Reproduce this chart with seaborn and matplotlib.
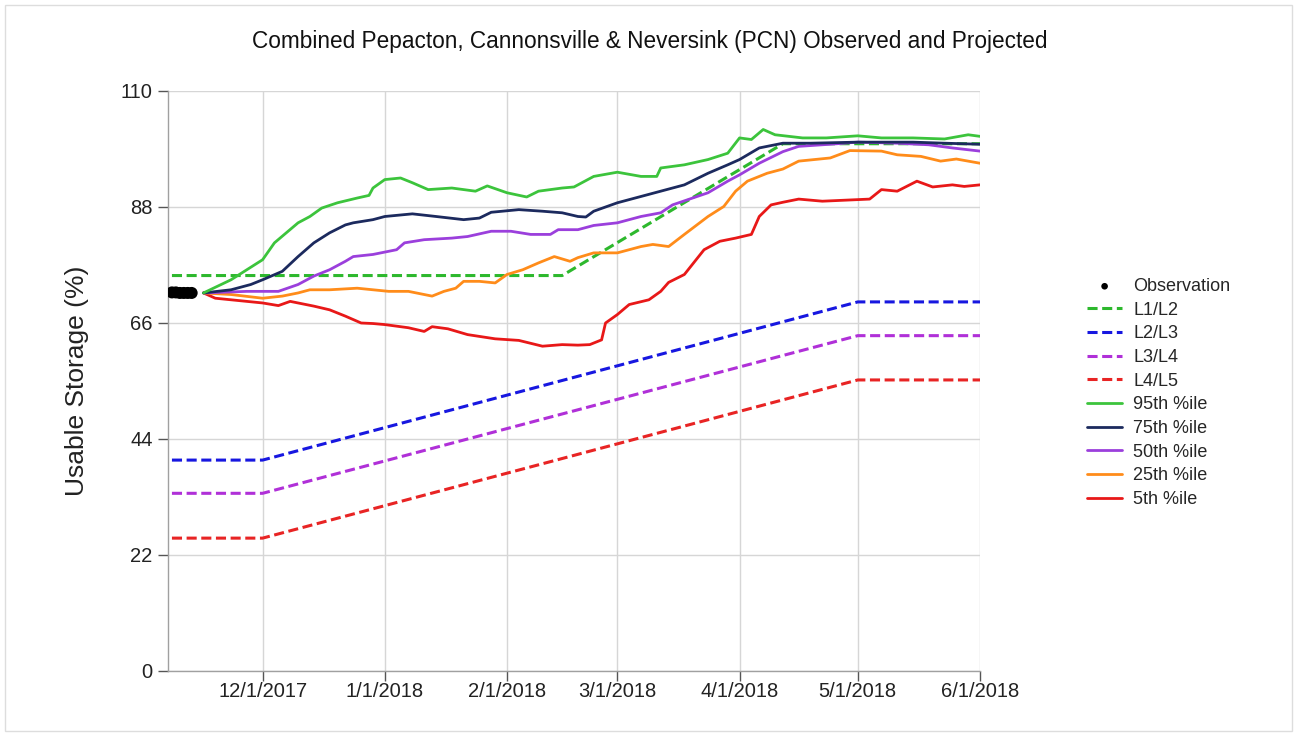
import pandas as pd
import matplotlib
matplotlib.use("Agg")
import matplotlib.pyplot as plt
from matplotlib.patches import Rectangle
import seaborn as sns

# ------------------------------------------------------
# Data
# x values are days counted from 12/1/2017
# ------------------------------------------------------
base = pd.Timestamp("2017-12-01")

obs_days = [-23, -22, -21, -20, -19, -18]
obs_vals = [71.8, 71.8, 71.7, 71.7, 71.7, 71.7]

# drought level rule curves
l12_days = [-23, 76, 132, 182]
l12_vals = [75.0, 75.0, 100.0, 100.0]
level_days = [-23, 0, 151, 182]
l23_vals = [40.0, 40.0, 70.0, 70.0]
l34_vals = [33.7, 33.7, 63.6, 63.6]
l45_vals = [25.2, 25.2, 55.2, 55.2]

# projected percentiles
p95_days = [-15, -8, -4, 0, 3, 6, 9, 12, 15, 19, 24, 27, 28, 31, 35, 38, 42, 48, 54,
            57, 62, 67, 70, 76, 79, 84, 90, 96, 100, 101, 107, 113, 118, 121, 124,
            127, 130, 137, 143, 151, 157, 165, 173, 179, 182]
p95_vals = [71.7, 74.2, 76.1, 78.0, 81.2, 83.1, 85.0, 86.2, 87.8, 88.8, 89.7, 90.2,
            91.6, 93.2, 93.5, 92.6, 91.3, 91.6, 91.0, 92.0, 90.7, 89.9, 91.0, 91.6,
            91.8, 93.8, 94.6, 93.8, 93.8, 95.4, 96.0, 97.0, 98.2, 101.1, 100.8, 102.7,
            101.7, 101.1, 101.1, 101.5, 101.1, 101.1, 100.9, 101.7, 101.4]

p75_days = [-15, -8, -3, 0, 5, 9, 13, 17, 21, 23, 28, 31, 38, 44, 51, 55, 58, 65, 71,
            76, 80, 82, 84, 90, 96, 101, 107, 113, 118, 121, 126, 132, 139, 151, 165,
            173, 182]
p75_vals = [71.7, 72.3, 73.3, 74.2, 75.8, 78.6, 81.2, 83.1, 84.6, 85.0, 85.6, 86.2,
            86.7, 86.2, 85.6, 85.9, 87.0, 87.5, 87.2, 86.9, 86.2, 86.1, 87.2, 88.8,
            90.0, 91.0, 92.2, 94.4, 96.0, 97.0, 99.2, 100.1, 100.1, 100.3, 100.3,
            100.1, 99.9]

p50_days = [-15, -4, 4, 9, 13, 17, 21, 23, 28, 34, 36, 41, 48, 52, 58, 63, 68, 73, 75,
            80, 84, 90, 96, 101, 104, 113, 118, 121, 126, 132, 136, 144, 151, 161,
            169, 175, 182]
p50_vals = [71.7, 72.0, 72.0, 73.3, 74.9, 76.1, 77.7, 78.6, 79.0, 79.9, 81.2, 81.8,
            82.1, 82.4, 83.4, 83.4, 82.8, 82.8, 83.7, 83.7, 84.5, 85.0, 86.2, 86.9,
            88.4, 90.7, 92.9, 94.1, 96.3, 98.5, 99.5, 99.9, 100.3, 100.1, 99.8, 99.2,
            98.6]

p25_days = [-15, -8, 0, 5, 9, 12, 17, 24, 28, 32, 37, 43, 46, 49, 51, 55, 59, 62, 66,
            70, 74, 78, 80, 84, 90, 96, 99, 103, 107, 113, 117, 120, 123, 128, 132,
            136, 144, 149, 157, 161, 167, 172, 176, 182]
p25_vals = [71.7, 71.4, 70.7, 71.1, 71.7, 72.3, 72.3, 72.6, 72.3, 72.0, 72.0, 71.1,
            72.0, 72.6, 73.9, 73.9, 73.6, 75.2, 76.1, 77.4, 78.6, 77.7, 78.4, 79.3,
            79.3, 80.5, 80.9, 80.5, 82.8, 86.2, 88.1, 91.0, 92.9, 94.4, 95.2, 96.7,
            97.3, 98.7, 98.6, 97.9, 97.6, 96.7, 97.1, 96.3]

p5_days = [-15, -12, -4, 0, 4, 7, 13, 17, 21, 25, 28, 31, 37, 41, 43, 47, 52, 59, 65,
           71, 76, 80, 83, 86, 87, 90, 93, 98, 101, 103, 107, 112, 116, 120, 124, 126,
           129, 132, 136, 142, 151, 154, 157, 161, 166, 170, 175, 178, 182]
p5_vals = [71.7, 70.7, 70.1, 69.8, 69.3, 70.1, 69.2, 68.5, 67.3, 66.0, 65.9, 65.7,
           65.1, 64.4, 65.3, 64.9, 63.8, 63.0, 62.7, 61.6, 61.9, 61.8, 61.9, 62.8,
           66.0, 67.6, 69.5, 70.4, 72.0, 73.7, 75.2, 79.9, 81.5, 82.1, 82.8, 86.2,
           88.4, 88.9, 89.5, 89.1, 89.4, 89.5, 91.3, 91.0, 92.9, 91.8, 92.2, 91.9, 92.2]

y_ticks = [0, 22, 44, 66, 88, 110]
x_tick_dates = ["2017-12-01", "2018-01-01", "2018-02-01", "2018-03-01",
                "2018-04-01", "2018-05-01", "2018-06-01"]
x_tick_labels = ["12/1/2017", "1/1/2018", "2/1/2018", "3/1/2018",
                 "4/1/2018", "5/1/2018", "6/1/2018"]


def to_dates(days):
    return base + pd.to_timedelta(days, unit="D")


# ------------------------------------------------------
# Plot
# ------------------------------------------------------
sns.set_theme(style="whitegrid")
plt.rcParams["font.family"] = ["Liberation Sans", "DejaVu Sans"]

fig = plt.figure(figsize=(12.97, 7.36), dpi=100)
ax = fig.add_axes([168 / 1297, 1 - 671 / 736, (980 - 168) / 1297, (671 - 91) / 736])

dash = (3.3, 1.5)
levels = [
    ("L1/L2", l12_days, l12_vals, "#2db82d"),
    ("L2/L3", level_days, l23_vals, "#1717e0"),
    ("L3/L4", level_days, l34_vals, "#b030d8"),
    ("L4/L5", level_days, l45_vals, "#e82424"),
]
pcts = [
    ("95th %ile", p95_days, p95_vals, "#3cc43c"),
    ("75th %ile", p75_days, p75_vals, "#1c2a5e"),
    ("50th %ile", p50_days, p50_vals, "#9b3fdc"),
    ("25th %ile", p25_days, p25_vals, "#ff8c1a"),
    ("5th %ile", p5_days, p5_vals, "#e81818"),
]

sns.scatterplot(x=to_dates(obs_days), y=obs_vals, ax=ax, color="black", s=75,
                edgecolor="none", label="Observation", zorder=5)

for name, d, v, c in levels:
    sns.lineplot(x=to_dates(d), y=v, ax=ax, color=c, lw=2.2, dashes=False,
                 label=name, zorder=3).lines[-1].set_dashes(dash)

for name, d, v, c in pcts[::-1]:
    sns.lineplot(x=to_dates(d), y=v, ax=ax, color=c, lw=2.0, label=name, zorder=4)

ax.set_xlim(pd.Timestamp("2017-11-07"), pd.Timestamp("2018-06-01"))
ax.set_ylim(0, 110)
ax.set_yticks(y_ticks)
ax.set_yticklabels([str(t) for t in y_ticks], fontsize=14.5, color="#222222")
ax.set_xticks(pd.to_datetime(x_tick_dates))
ax.set_xticklabels(x_tick_labels, fontsize=14.5, color="#222222")

ax.grid(True, color="#d6d6d6", lw=1)
ax.set_facecolor("white")
for side in ["top", "right"]:
    ax.spines[side].set_visible(False)
for side in ["left", "bottom"]:
    ax.spines[side].set_color("#a0a0a0")
    ax.spines[side].set_linewidth(1)
ax.tick_params(axis="both", which="both", length=7, width=1, color="#555555",
               direction="out", left=True, bottom=True)
ax.tick_params(axis="y", pad=4)
ax.tick_params(axis="x", pad=1)

ax.set_xlabel("")
ax.set_ylabel("Usable Storage (%)", fontsize=19, color="#222222")
ax.yaxis.set_label_coords(-0.097, 0.5)

fig.text(0.501, 0.944, "Combined Pepacton, Cannonsville & Neversink (PCN) Observed and Projected",
         ha="center", va="center", fontsize=16.3, color="#111111")

# legend in the order of the reference
handles, labels = ax.get_legend_handles_labels()
order = ["Observation", "L1/L2", "L2/L3", "L3/L4", "L4/L5",
         "95th %ile", "75th %ile", "50th %ile", "25th %ile", "5th %ile"]
hmap = dict(zip(labels, handles))
if ax.get_legend():
    ax.get_legend().remove()
leg = fig.legend([hmap[k] for k in order], order, loc="upper left",
                 bbox_to_anchor=(1087 / 1297, 1 - 278 / 736), frameon=False,
                 fontsize=13, handlelength=1.95, handletextpad=0.6,
                 labelspacing=0.37, markerscale=0.55, borderpad=0, borderaxespad=0)

# thin frame around whole picture
fig.patches.append(Rectangle((5 / 1297, 5 / 736), 1 - 10 / 1297, 1 - 10 / 736,
                             transform=fig.transFigure, fill=False,
                             edgecolor="#dddddd", lw=1))

fig.savefig("out.png", dpi=100, facecolor="white")
